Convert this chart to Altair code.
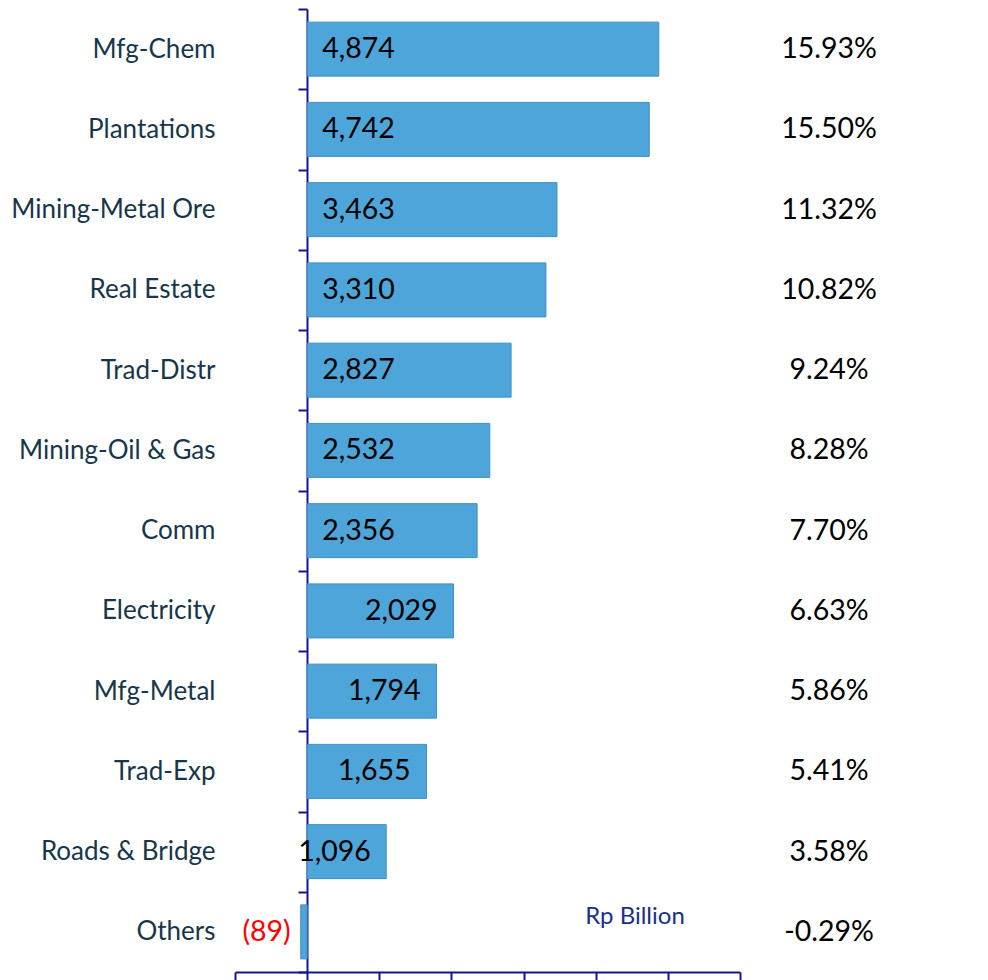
import altair as alt
import pandas as pd

sectors = ["Mfg-Chem", "Plantations", "Mining-Metal Ore", "Real Estate", "Trad-Distr",
           "Mining-Oil & Gas", "Comm", "Electricity", "Mfg-Metal", "Trad-Exp",
           "Roads & Bridge", "Others"]
values = [4874, 4742, 3463, 3310, 2827, 2532, 2356, 2029, 1794, 1655, 1096, -89]
shares = [15.93, 15.50, 11.32, 10.82, 9.24, 8.28, 7.70, 6.63, 5.86, 5.41, 3.58, -0.29]
x_ticks = [-1000, 0, 1000, 2000, 3000, 4000, 5000, 6000]
unit_label = "Rp Billion"

df = pd.DataFrame({"sector": sectors, "value": values, "share": shares})

FONT = "Lato"
NAVY = "#16168A"
BAR = "#4EA5D9"
BAR_EDGE = "#3F8FC3"

x_scale = alt.Scale(domain=[x_ticks[0], x_ticks[-1]], nice=False, zero=False)

y_enc = alt.Y(
    "sector:N", sort=sectors,
    scale=alt.Scale(paddingInner=0, paddingOuter=0),
    axis=alt.Axis(title=None, orient="left", offset=-72, tickBand="extent",
                  tickSize=9, tickWidth=2, tickColor=NAVY,
                  domainColor=NAVY, domainWidth=2,
                  labelPadding=83, labelFont=FONT, labelFontSize=26,
                  labelColor="#17364A", labelLimit=400, grid=False),
)

base = alt.Chart(df).transform_calculate(
    label="datum.value < 0 ? '(' + format(-datum.value, ',') + ')' : format(datum.value, ',')",
    pct="(datum.share < 0 ? '-' : '') + format(abs(datum.share), '.2f') + '%'",
).encode(y=y_enc)

bars = base.mark_bar(height=54, color=BAR, stroke=BAR_EDGE, strokeWidth=1).encode(
    x=alt.X("value:Q", scale=x_scale,
            axis=alt.Axis(title=None, values=x_ticks, labels=False, tickSize=10,
                          tickWidth=2, tickColor=NAVY, domainColor=NAVY,
                          domainWidth=2, grid=False)),
)

txt = dict(font=FONT, fontSize=28.5, baseline="middle")

lab_base = base.transform_filter("datum.value >= 2300").mark_text(
    align="left", dx=15, color="black", **txt
).encode(x=alt.datum(0), text="label:N")

lab_end = base.transform_filter("datum.value >= 1500 && datum.value < 2300").mark_text(
    align="right", dx=-16, color="black", **txt
).encode(x=alt.X("value:Q", scale=x_scale), text="label:N")

lab_small = base.transform_filter("datum.value >= 0 && datum.value < 1500").mark_text(
    align="left", dx=-9, color="black", **txt
).encode(x=alt.datum(0), text="label:N")

lab_neg = base.transform_filter("datum.value < 0").mark_text(
    align="right", dx=-10, color="#FF0000", **txt
).encode(x=alt.X("value:Q", scale=x_scale), text="label:N")

pct = base.mark_text(align="center", color="black", **txt).encode(
    x=alt.value(594), text="pct:N"
)

unit = alt.Chart(pd.DataFrame({"t": [unit_label]})).mark_text(
    font=FONT, fontSize=24, color="#1A2F8C", align="center", baseline="middle"
).encode(x=alt.value(400), y=alt.value(908), text="t:N")

chart = alt.layer(bars, lab_base, lab_end, lab_small, lab_neg, pct, unit).properties(
    width=505, height=963,
    autosize=alt.AutoSizeParams(type="none"),
    padding={"left": 227, "top": 1, "right": 200, "bottom": 8},
).configure_view(stroke=None)

chart.save("out.html", embed_options={"renderer": "svg", "actions": False})
